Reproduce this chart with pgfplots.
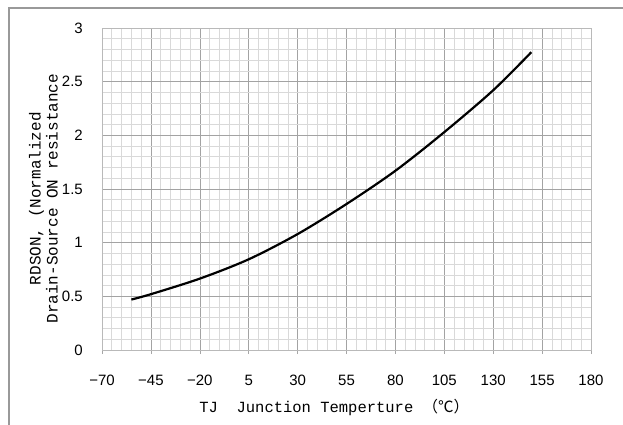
\documentclass[border=0pt]{standalone}
\usepackage{pgfplots}
\pgfplotsset{compat=1.18}
\usepackage{fontspec}
\setmainfont{Liberation Sans}
\newfontfamily\monofont{Liberation Mono}
\newfontfamily\cjk{Noto Sans CJK SC}
\begin{document}
\begin{tikzpicture}
\useasboundingbox (-102pt,-75pt) rectangle (521pt,350pt);
\draw[line width=1.5pt, gray!80] (-93pt,-80pt) -- (-93pt,342pt) -- (530pt,342pt);
\begin{axis}[
  at={(0pt,0pt)}, anchor=south west,
  scale only axis, width=489pt, height=322pt,
  xmin=-70, xmax=180, ymin=0, ymax=3,
  xtick={-70,-45,...,180},
  xticklabels={−70,−45,−20,5,30,55,80,105,130,155,180},
  ytick={0,0.5,...,3},
  yticklabels={0,0.5,1,1.5,2,2.5,3},
  minor x tick num=4, minor y tick num=4,
  grid=both,
  major grid style={gray!72, line width=0.6pt},
  minor grid style={gray!30, line width=0.6pt},
  axis line style={gray!55, line width=0.6pt},
  tick align=outside,
  major tick length=4pt, minor tick length=0pt,
  xtick pos=bottom, ytick pos=left,
  xtick style={gray!70, line width=0.6pt},
  ytick style={draw=none},
  ticklabel style={font=\fontsize{15}{15}\selectfont, inner sep=0pt},
  xticklabel style={anchor=north, yshift=-21pt},
  yticklabel style={anchor=east, xshift=-15pt},
  xlabel={\monofont TJ\ \ Junction Temperture {\cjk （℃）}},
  xlabel style={font=\fontsize{15.5}{15.5}\selectfont, at={(axis description cs:0.475,0)}, anchor=base, yshift=-62pt},
  ylabel={\monofont RDSON, (Normalized\\\monofont Drain-Source ON resistance},
  ylabel style={font=\fontsize{16}{17}\selectfont, align=center, at={(axis description cs:-0.1196,0.47)}, anchor=center},
]
\addplot[black, line width=2.2pt, smooth] coordinates {
  (-55,0.47) (-45,0.52) (-20,0.665) (5,0.845) (30,1.08) (55,1.36) (80,1.67) (105,2.03) (130,2.42) (149.5,2.775)
};
\end{axis}
\end{tikzpicture}
\end{document}
